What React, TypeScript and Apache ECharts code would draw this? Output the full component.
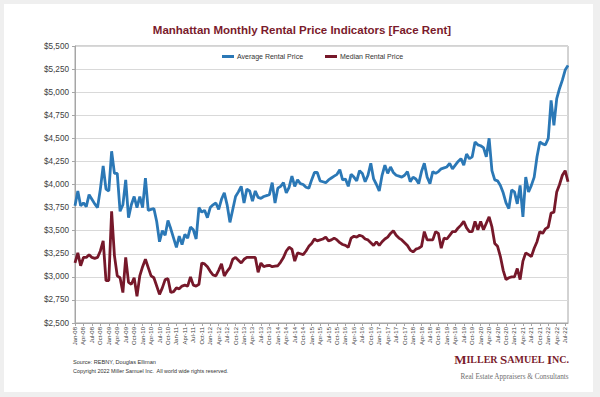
import React, { useEffect, useRef } from "react";
import * as echarts from "echarts";

const MONTHS = ["Jan", "Feb", "Mar", "Apr", "May", "Jun", "Jul", "Aug", "Sep", "Oct", "Nov", "Dec"];
const YEARS = ["08", "09", "10", "11", "12", "13", "14", "15", "16", "17", "18", "19", "20", "21", "22"];
const LAST_MONTH_INDEX_2022 = 7; // Aug-22

const categories: string[] = [];
YEARS.forEach((y, yi) => {
  MONTHS.forEach((m, mi) => {
    if (yi === YEARS.length - 1 && mi > LAST_MONTH_INDEX_2022) return;
    categories.push(`${m}-${y}`);
  });
});

const averageRent = [
  3770, 3930, 3770, 3800, 3760, 3890, 3840, 3790, 3750, 3950, 4200, 3950,
  3930, 4360, 4120, 4120, 3710, 3780, 4050, 3640, 3780, 3870, 3750, 3870,
  3750, 4070, 3720, 3730, 3740, 3600, 3380, 3500, 3450, 3610, 3520, 3420,
  3320, 3440, 3350, 3460, 3420, 3540, 3510, 3410, 3750, 3700, 3720, 3640,
  3750, 3780, 3800, 3730, 3840, 3910, 3780, 3590, 3730, 3870, 3920, 3980,
  3800, 3950, 3930, 3820, 3930, 3860, 3850, 3870, 3880, 3890, 4020, 3800,
  3960, 3980, 4020, 3910, 3970, 4090, 3980, 4050, 4010, 4000, 3970, 3960,
  4050, 4130, 4130, 4040, 4030, 4020, 4050, 4070, 4090, 4110, 4160, 4050,
  4060, 3980, 4110, 4080, 4040, 4150, 4120, 4030, 4100, 4230, 4060, 4000,
  3930, 4100, 4210, 4120, 4190, 4130, 4100, 4090, 4080, 4100, 4140, 4030,
  4080, 4060, 4010, 4140, 4230, 4080, 4010, 4140, 4120, 4140, 4170, 4180,
  4190, 4230, 4170, 4210, 4250, 4280, 4210, 4330, 4280, 4300, 4460, 4430,
  4420, 4400, 4300, 4500, 4150, 4050, 4040, 3990, 3910, 3800, 3740, 3940,
  3920, 3790, 3990, 3650, 4080, 3920, 3990, 4080, 4300, 4460, 4440, 4430,
  4500, 4910, 4640, 4930, 5040, 5130, 5240, 5290,
];

const medianRent = [
  3150, 3260, 3120, 3210, 3210, 3240, 3210, 3200, 3210, 3280, 3390, 2960,
  2960, 3710, 3230, 3010, 2990, 2830, 3210, 2940, 2920, 2990, 2790, 3010,
  3110, 3190, 3100, 3010, 2990, 2900, 2810, 2880, 2970, 2980, 2830, 2840,
  2880, 2870, 2900, 2910, 2900, 3000, 2910, 2900, 2920, 3150, 3140, 3110,
  3060, 3020, 3010, 3070, 3140, 3010, 3060, 3100, 3190, 3210, 3180, 3150,
  3190, 3210, 3210, 3210, 3210, 3050, 3150, 3110, 3120, 3125, 3110, 3115,
  3120, 3160, 3210, 3280, 3320, 3300, 3170, 3260, 3250, 3240, 3280, 3330,
  3360, 3410, 3390, 3400, 3410, 3430, 3390, 3400, 3420, 3400, 3370, 3350,
  3340, 3320, 3420, 3440, 3430, 3450, 3440, 3410, 3400, 3370, 3340, 3380,
  3340, 3380, 3410, 3430, 3470, 3500, 3450, 3420, 3400, 3370, 3340, 3290,
  3270, 3300, 3310, 3330, 3490, 3400, 3400, 3400, 3490, 3470, 3310, 3420,
  3410, 3450, 3490, 3490, 3530, 3560, 3600, 3530, 3490, 3490, 3600, 3510,
  3600, 3510, 3580, 3650, 3540, 3360, 3330, 3220, 3070, 2970, 2990, 3000,
  3000, 3090, 2970, 3170, 3260, 3240, 3220, 3310, 3380, 3490, 3470, 3520,
  3540, 3690, 3700, 3920, 4000, 4100, 4150, 4030,
];

const SERIES_NAMES = ["Average Rental Price", "Median Rental Price"];
const TITLE = "Manhattan Monthly Rental Price Indicators [Face Rent]";
const SOURCE = "Source: REBNY, Douglas Elliman";
const COPYRIGHT = "Copyright 2022 Miller Samuel Inc.  All world wide rights reserved.";
const TAGLINE = "Real Estate Appraisers & Consultants";

const BLUE = "#2b78b6";
const RED = "#76182a";
const SANS = "'Liberation Sans', Arial, sans-serif";
const SERIF = "'Liberation Serif', 'Times New Roman', serif";

function fmtDollar(v: number) {
  const s = String(Math.round(v));
  return "$" + s.replace(/\B(?=(\d{3})+(?!\d))/g, ",");
}

export default function App() {
  const ref = useRef<HTMLDivElement>(null);
  useEffect(() => {
    document.body.style.margin = "0";
    if (!ref.current) return;
    const chart = echarts.init(ref.current, undefined, { renderer: "svg" });
    chart.setOption({
      animation: false,
      textStyle: { fontFamily: SANS },
      title: [
        {
          text: TITLE,
          left: 297,
          textAlign: "center",
          top: 19,
          textStyle: { color: "#7a1b2c", fontSize: 11.5, fontWeight: "bold", fontFamily: SANS },
        },
        {
          text: "{b|M}{s|ILLER }{b|S}{s|AMUEL }{b|I}{s|NC.}",
          right: 31,
          top: 353,
          padding: 0,
          textStyle: {
            rich: {
              b: { fontSize: 13, color: "#7a1b2c", fontFamily: SERIF },
              s: { fontSize: 10, color: "#7a1b2c", fontFamily: SERIF },
            },
          },
        },
        {
          text: TAGLINE,
          right: 31,
          top: 373,
          padding: 0,
          textStyle: { fontSize: 7.2, color: "#6e6e6e", fontWeight: "normal", fontFamily: SERIF },
        },
        {
          text: SOURCE,
          left: 73,
          top: 359,
          padding: 0,
          textStyle: { fontSize: 5.6, color: "#333", fontWeight: "normal", fontFamily: SANS },
        },
        {
          text: COPYRIGHT,
          left: 73,
          top: 368,
          padding: 0,
          textStyle: { fontSize: 5.4, color: "#333", fontWeight: "normal", fontFamily: SANS },
        },
      ],
      legend: {
        data: SERIES_NAMES,
        left: 222,
        top: 53,
        icon: "rect",
        itemWidth: 12,
        itemHeight: 3,
        itemGap: 22,
        padding: 0,
        textStyle: { fontSize: 7, color: "#333", padding: [0, 0, 0, -2] },
      },
      grid: {
        left: 75,
        right: 32,
        top: 46,
        bottom: 74,
        show: true,
        borderColor: "#a6a6a6",
        borderWidth: 1,
      },
      xAxis: {
        type: "category",
        data: categories,
        boundaryGap: false,
        axisLine: { lineStyle: { color: "#a6a6a6" } },
        axisTick: { show: true, interval: 2, length: 3, lineStyle: { color: "#a6a6a6" } },
        axisLabel: { interval: 2, rotate: 90, fontSize: 6, color: "#404040", margin: 4 },
        splitLine: { show: false },
      },
      yAxis: {
        type: "value",
        min: 2500,
        max: 5500,
        interval: 250,
        axisLine: { show: true, lineStyle: { color: "#a6a6a6" } },
        axisTick: { show: true, length: 3, lineStyle: { color: "#a6a6a6" } },
        axisLabel: { fontSize: 8.2, color: "#404040", margin: 6, formatter: (v: number) => fmtDollar(v) },
        splitLine: { lineStyle: { color: "#d9d9d9", width: 1 } },
      },
      series: [
        {
          name: SERIES_NAMES[0],
          type: "line",
          data: averageRent,
          showSymbol: false,
          color: BLUE,
          lineStyle: { width: 2.8, color: BLUE },
        },
        {
          name: SERIES_NAMES[1],
          type: "line",
          data: medianRent,
          showSymbol: false,
          color: RED,
          lineStyle: { width: 2.8, color: RED },
        },
      ],
    });
    return () => chart.dispose();
  }, []);

  return (
    <div style={{ position: "relative", width: 600, height: 397, background: "#efefef" }}>
      <div
        style={{
          position: "absolute",
          left: 4,
          top: 4,
          width: 589,
          height: 388,
          background: "#ffffff",
        }}
      />
      <div ref={ref} style={{ position: "absolute", left: 0, top: 0, width: 600, height: 397 }} />
    </div>
  );
}
